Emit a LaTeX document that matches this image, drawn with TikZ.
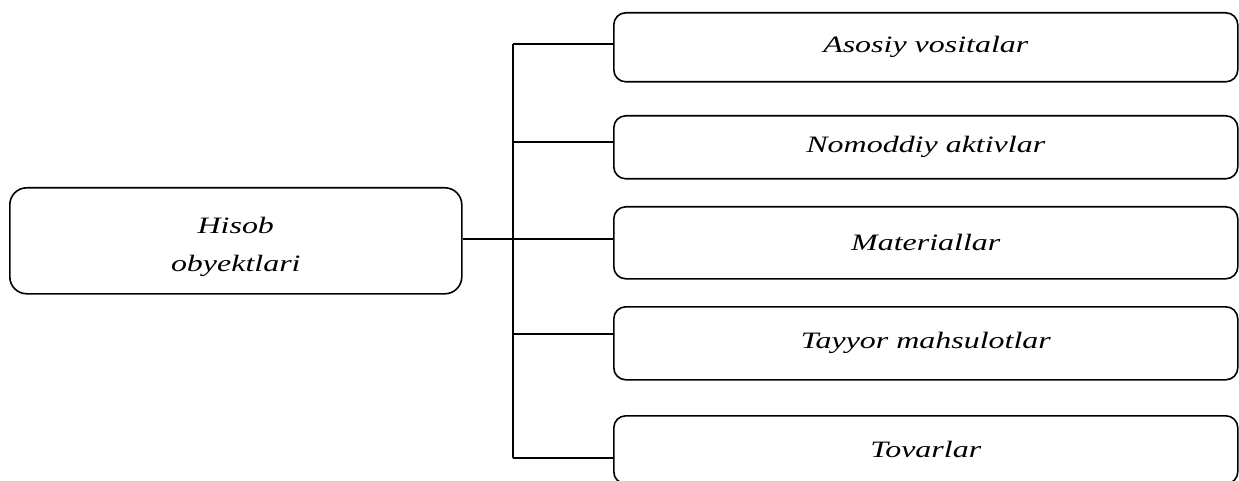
\documentclass[tikz,border=0pt]{standalone}
\usepackage{fontspec}
\setmainfont{Liberation Serif}[FakeStretch=1.36]
\tikzset{
  box/.style={draw, line width=1.6pt, rounded corners=12pt, inner sep=0pt, anchor=north west,
    font=\fontsize{23.5}{38}\selectfont\itshape, align=center},
  conn/.style={line width=1.5pt}
}
\begin{document}
\begin{tikzpicture}[x=1pt,y=-1pt]
\useasboundingbox (0,0) rectangle (1239,481);
\node[box, rounded corners=17pt, minimum width=452pt, minimum height=106pt, text height=66pt] (L) at (9,187) {Hisob\\obyektlari};
\node[box, minimum width=624pt, minimum height=69pt] (b1) at (613,12) {Asosiy vositalar};
\node[box, minimum width=624pt, minimum height=63pt] (b2) at (613,115) {Nomoddiy aktivlar};
\node[box, minimum width=624pt, minimum height=72pt] (b3) at (613,206) {Materiallar};
\node[box, minimum width=624pt, minimum height=73pt] (b4) at (613,306) {Tayyor mahsulotlar};
\node[box, minimum width=624pt, minimum height=68pt] (b5) at (613,415) {Tovarlar};
\coordinate (t1) at (513,44);
\coordinate (t2) at (513,142);
\coordinate (t3) at (513,239);
\coordinate (t4) at (513,334);
\coordinate (t5) at (513,458);
\draw[conn] (t1) -- (t5);
\draw[conn] (t1) -- (t1 -| b1.west);
\draw[conn] (t2) -- (t2 -| b2.west);
\draw[conn] (L.east |- t3) -- (t3 -| b3.west);
\draw[conn] (t4) -- (t4 -| b4.west);
\draw[conn] (t5) -- (t5 -| b5.west);
\end{tikzpicture}
\end{document}
